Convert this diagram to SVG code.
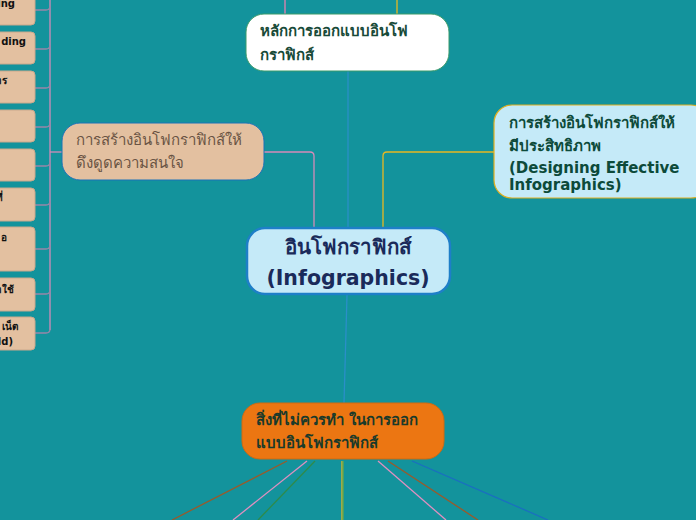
<svg xmlns="http://www.w3.org/2000/svg" width="696" height="520" viewBox="0 0 696 520">
<style>
.t{font-family:"DejaVu Sans","Noto Sans",sans-serif}
.leaf{fill:#E3C0A0;stroke:#C9A88C;stroke-width:1}
.lt{font-size:10px;font-weight:bold;fill:#111}
.ln{fill:none;stroke-width:1.3}
</style>
<rect width="696" height="520" fill="#13939C"/>
<g id="connectors">
<path class="ln" d="M50 0V330" stroke="#D58BB8"/>
<path class="ln" d="M35 10H46Q50 10 50 6" stroke="#9A86A8"/>
<path class="ln" d="M35 49H46Q50 49 50 45" stroke="#9A86A8"/>
<path class="ln" d="M35 88H46Q50 88 50 84" stroke="#9A86A8"/>
<path class="ln" d="M35 127H46Q50 127 50 123" stroke="#9A86A8"/>
<path class="ln" d="M35 166H46Q50 166 50 162" stroke="#9A86A8"/>
<path class="ln" d="M35 205H46Q50 205 50 201" stroke="#9A86A8"/>
<path class="ln" d="M35 249H46Q50 249 50 245" stroke="#9A86A8"/>
<path class="ln" d="M35 294H46Q50 294 50 290" stroke="#9A86A8"/>
<path class="ln" d="M35 333H46Q50 333 50 329" stroke="#9A86A8"/>
<path class="ln" d="M50 152H62" stroke="#D58BB8"/>
<path class="ln" d="M264 152H310Q314 152 314 156V228" stroke="#D58BB8"/>
<path class="ln" d="M494 152H387Q383 152 383 156V228" stroke="#E8B820"/>
<path class="ln" d="M348 71V228" stroke="#2A8FC8"/>
<path class="ln" d="M347 295L344 403" stroke="#2A8FC8"/>
<path class="ln" d="M285 0V14" stroke="#E880B0" stroke-width="2"/>
<path class="ln" d="M397 0V14" stroke="#E8B820" stroke-width="2"/>
<path class="ln" d="M287 461L172 520" stroke="#9A5A2A"/>
<path class="ln" d="M307 461L233 520" stroke="#E090C0"/>
<path class="ln" d="M315 461L258 520" stroke="#2E8B4A"/>
<path class="ln" d="M342 461V520" stroke="#E8B820" stroke-width="2"/>
<path class="ln" d="M343 461V520" stroke="#6AA84A"/>
<path class="ln" d="M378 461L446 520" stroke="#E090C0"/>
<path class="ln" d="M388 461L478 520" stroke="#9A5A2A"/>
<path class="ln" d="M412 461L548 520" stroke="#1A6FC0"/>
</g>
<g id="leaf1"><rect class="leaf" x="-10" y="-10" width="45" height="35" rx="4"/><text class="t lt" x="15" y="7" text-anchor="end">ing</text></g>
<g id="leaf2"><rect class="leaf" x="-10" y="32" width="45" height="32" rx="4"/><text class="t lt" x="26" y="45" text-anchor="end">ding</text></g>
<g id="leaf3"><rect class="leaf" x="-10" y="71" width="45" height="32" rx="4"/><text class="t lt" x="7" y="84" text-anchor="end">าร</text></g>
<g id="leaf4"><rect class="leaf" x="-10" y="110" width="45" height="32" rx="4"/></g>
<g id="leaf5"><rect class="leaf" x="-10" y="149" width="45" height="32" rx="4"/></g>
<g id="leaf6"><rect class="leaf" x="-10" y="188" width="45" height="33" rx="4"/><text class="t lt" x="3" y="201" text-anchor="end">ที่</text></g>
<g id="leaf7"><rect class="leaf" x="-10" y="227" width="45" height="44" rx="4"/><text class="t lt" x="7" y="241" text-anchor="end">อ</text></g>
<g id="leaf8"><rect class="leaf" x="-10" y="278" width="45" height="33" rx="4"/><text class="t lt" x="14" y="293" text-anchor="end">าใช้</text></g>
<g id="leaf9"><rect class="leaf" x="-10" y="317" width="45" height="33" rx="4"/><text class="t lt" x="18" y="330" text-anchor="end">เน็ต</text><text class="t lt" x="13" y="345" text-anchor="end">ld)</text></g>
<g id="attract"><rect x="62" y="123" width="202" height="57" rx="18" fill="#E3C0A0" stroke="#1A72B8" stroke-width="1"/><text class="t" font-size="15" fill="#6A5444" x="76" y="145">การสร้างอินโฟกราฟิกส์ให้</text><text class="t" font-size="15" fill="#6A5444" x="76" y="168">ดึงดูดความสนใจ</text></g>
<g id="principles"><rect x="246" y="14" width="203" height="57" rx="18" fill="#FFFFFF" stroke="#3A9A6A" stroke-width="1"/><text class="t" font-size="15" font-weight="bold" fill="#184A38" x="260" y="36">หลักการออกแบบอินโฟ</text><text class="t" font-size="15" font-weight="bold" fill="#184A38" x="260" y="60">กราฟิกส์</text></g>
<g id="center"><rect x="247" y="228" width="203" height="66" rx="18" fill="#C5EAF8" stroke="#1E7FC8" stroke-width="2.5"/><text class="t" font-size="20.5" font-weight="bold" fill="#1A2A5A" x="348" y="254" text-anchor="middle">อินโฟกราฟิกส์</text><text class="t" font-size="20.5" font-weight="bold" fill="#1A2A5A" x="348" y="285" text-anchor="middle">(Infographics)</text></g>
<g id="effective"><rect x="494" y="105" width="215" height="93" rx="18" fill="#C5EAF8" stroke="#E0B020" stroke-width="1.2"/><text class="t" font-size="15" font-weight="bold" fill="#0D4A3A" x="509" y="128">การสร้างอินโฟกราฟิกส์ให้</text><text class="t" font-size="15" font-weight="bold" fill="#0D4A3A" x="509" y="151">มีประสิทธิภาพ</text><text class="t" font-size="15" font-weight="bold" fill="#0D4A3A" x="509" y="173">(Designing Effective</text><text class="t" font-size="15" font-weight="bold" fill="#0D4A3A" x="509" y="190">Infographics)</text></g>
<g id="dont"><rect x="242" y="403" width="202" height="56" rx="18" fill="#EC7612" stroke="#D06A10" stroke-width="1"/><text class="t" font-size="15" font-weight="bold" fill="#1A3A2A" x="256" y="425">สิ่งที่ไม่ควรทำ ในการออก</text><text class="t" font-size="15" font-weight="bold" fill="#1A3A2A" x="256" y="448">แบบอินโฟกราฟิกส์</text></g>
</svg>
